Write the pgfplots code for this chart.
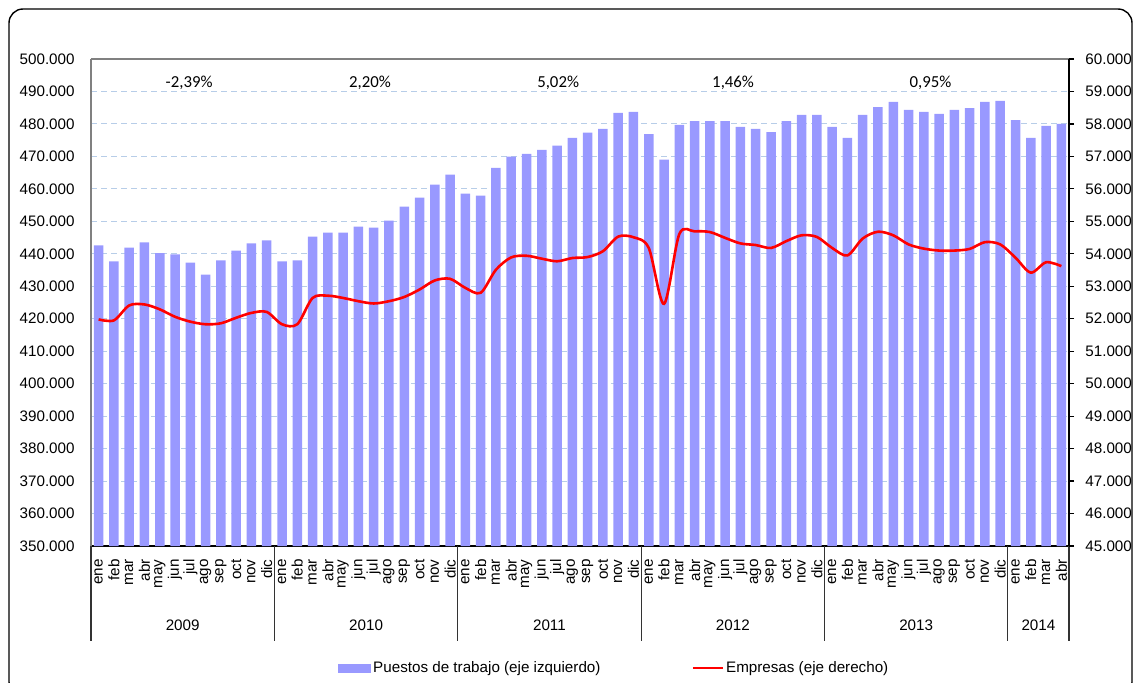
\documentclass[border=0pt]{standalone}
\usepackage{fontspec}
\setmainfont{Liberation Sans}
\newfontfamily\calibri{Carlito}
\usepackage{pgfplots}
\pgfplotsset{compat=1.18}
\definecolor{barcol}{HTML}{9999FF}
\definecolor{gridcol}{HTML}{B7CDE8}
\newcommand{\tf}{\fontsize{7.6}{9}\selectfont}
\begin{document}
\begin{tikzpicture}
\useasboundingbox (-45.5pt,-68pt) rectangle (522pt,273pt);
\draw[line width=0.7pt, rounded corners=7pt] (-41pt,-75pt) rectangle (520.5pt,268.5pt);
\begin{axis}[
  at={(0,0)}, anchor=south west, scale only axis, width=489pt, height=243.5pt,
  xmin=-0.5, xmax=63.5, ymin=350000, ymax=500000,
  clip mode=individual,
  axis x line*=bottom, axis y line*=left,
  x axis line style={black, line width=0.8pt},
  y axis line style={gray, line width=0.6pt},
  xtick={0,...,63},
  xticklabels={ene,feb,mar,abr,may,jun,jul,ago,sep,oct,nov,dic,ene,feb,mar,abr,may,jun,jul,ago,sep,oct,nov,dic,ene,feb,mar,abr,may,jun,jul,ago,sep,oct,nov,dic,ene,feb,mar,abr,may,jun,jul,ago,sep,oct,nov,dic,ene,feb,mar,abr,may,jun,jul,ago,sep,oct,nov,dic,ene,feb,mar,abr},
  ytick={350000,360000,...,500000},
  scaled y ticks=false,
  /pgf/number format/fixed, /pgf/number format/1000 sep={.}, /pgf/number format/assume math mode=true,
  ymajorgrids, major grid style={gridcol, dash pattern=on 3pt off 2pt, line width=0.5pt},
  tick style={draw=none},
  xticklabel style={rotate=90, anchor=east, inner sep=0pt, font=\tf},
  xticklabel shift=6.5pt,
  yticklabel style={anchor=east, inner sep=0pt, font=\tf},
  yticklabel shift=8pt,
]
\addplot[ybar, bar width=4.75pt, fill=barcol, draw=none] coordinates {
(0,442600)(1,437700)(2,441900)(3,443500)(4,440200)(5,439800)(6,437300)(7,433600)(8,438000)(9,441000)(10,443200)(11,444100)
(12,437700)(13,438000)(14,445300)(15,446500)(16,446500)(17,448400)(18,448100)(19,450200)(20,454500)(21,457300)(22,461300)(23,464400)
(24,458500)(25,457900)(26,466500)(27,469900)(28,470800)(29,472000)(30,473300)(31,475700)(32,477300)(33,478500)(34,483400)(35,483700)
(36,476900)(37,469000)(38,479700)(39,480900)(40,480900)(41,480900)(42,479100)(43,478500)(44,477500)(45,480900)(46,482800)(47,482800)
(48,479100)(49,475700)(50,482800)(51,485200)(52,486800)(53,484300)(54,483700)(55,483100)(56,484300)(57,484900)(58,486800)(59,487100)
(60,481200)(61,475700)(62,479400)(63,480000)};
\draw[gray, line width=0.6pt] (axis description cs:0,1) -- (axis description cs:1,1);
\draw[black!80, line width=0.6pt] (axis cs:-0.5,350000) -- ++(0pt,-47.5pt);
\draw[black!80, line width=0.6pt] (axis cs:11.5,350000) -- ++(0pt,-47.5pt);
\draw[black!80, line width=0.6pt] (axis cs:23.5,350000) -- ++(0pt,-47.5pt);
\draw[black!80, line width=0.6pt] (axis cs:35.5,350000) -- ++(0pt,-47.5pt);
\draw[black!80, line width=0.6pt] (axis cs:47.5,350000) -- ++(0pt,-47.5pt);
\draw[black!80, line width=0.6pt] (axis cs:59.5,350000) -- ++(0pt,-47.5pt);
\draw[black!80, line width=0.6pt] (axis cs:63.5,350000) -- ++(0pt,-47.5pt);
\node[font=\tf, inner sep=0pt] at ([yshift=-39.5pt]axis cs:5.5,350000) {2009};
\node[font=\tf, inner sep=0pt] at ([yshift=-39.5pt]axis cs:17.5,350000) {2010};
\node[font=\tf, inner sep=0pt] at ([yshift=-39.5pt]axis cs:29.5,350000) {2011};
\node[font=\tf, inner sep=0pt] at ([yshift=-39.5pt]axis cs:41.5,350000) {2012};
\node[font=\tf, inner sep=0pt] at ([yshift=-39.5pt]axis cs:53.5,350000) {2013};
\node[font=\tf, inner sep=0pt] at ([yshift=-39.5pt]axis cs:61.5,350000) {2014};
\node[font=\calibri\fontsize{8.4}{10}\selectfont, inner sep=0pt] at (axis cs:5.92,492700) {-2,39\%};
\node[font=\calibri\fontsize{8.4}{10}\selectfont, inner sep=0pt] at (axis cs:17.76,492700) {2,20\%};
\node[font=\calibri\fontsize{8.4}{10}\selectfont, inner sep=0pt] at (axis cs:30.07,492700) {5,02\%};
\node[font=\calibri\fontsize{8.4}{10}\selectfont, inner sep=0pt] at (axis cs:41.52,492700) {1,46\%};
\node[font=\calibri\fontsize{8.4}{10}\selectfont, inner sep=0pt] at (axis cs:54.44,492700) {0,95\%};
\end{axis}
\begin{axis}[
  at={(0,0)}, anchor=south west, scale only axis, width=489pt, height=243.5pt,
  xmin=-0.5, xmax=63.5, ymin=45000, ymax=60000,
  axis x line=none, axis y line*=right,
  y axis line style={black, line width=0.8pt},
  ytick={45000,46000,...,60000},
  scaled y ticks=false,
  /pgf/number format/fixed, /pgf/number format/1000 sep={.}, /pgf/number format/assume math mode=true,
  ytick style={black, line width=0.6pt}, tick align=outside, major tick length=2.5pt,
  yticklabel style={anchor=west, inner sep=0pt, font=\tf},
  yticklabel shift=5.5pt,
  legend style={at={(axis description cs:0.2526,-0.2505)}, anchor=west, draw=none, fill=none,
    font=\tf, legend columns=2, inner sep=0pt, nodes={inner sep=1pt},
    /tikz/every even column/.append style={column sep=44.5pt}},
]
\addlegendimage{legend image code/.code={\fill[barcol] (0pt,-2pt) rectangle (16pt,2pt);}}
\addlegendentry{Puestos de trabajo (eje izquierdo)}
\addplot[red, line width=1.3pt, smooth, legend image code/.code={\draw[red,line width=1.3pt] (0pt,0pt) -- (15pt,0pt);}] coordinates {
(0,51980)(1,51950)(2,52410)(3,52440)(4,52290)(5,52060)(6,51910)(7,51830)(8,51860)(9,52030)(10,52180)(11,52210)
(12,51830)(13,51830)(14,52640)(15,52710)(16,52640)(17,52540)(18,52470)(19,52540)(20,52670)(21,52900)(22,53180)(23,53230)
(24,52950)(25,52800)(26,53510)(27,53890)(28,53940)(29,53850)(30,53770)(31,53870)(32,53900)(33,54080)(34,54530)(35,54510)
(36,54180)(37,52460)(38,54610)(39,54690)(40,54670)(41,54490)(42,54320)(43,54270)(44,54180)(45,54390)(46,54570)(47,54520)
(48,54180)(49,53950)(50,54470)(51,54680)(52,54570)(53,54290)(54,54160)(55,54100)(56,54100)(57,54150)(58,54360)(59,54290)
(60,53880)(61,53420)(62,53740)(63,53620)};
\addlegendentry{Empresas (eje derecho)}
\end{axis}
\end{tikzpicture}
\end{document}
